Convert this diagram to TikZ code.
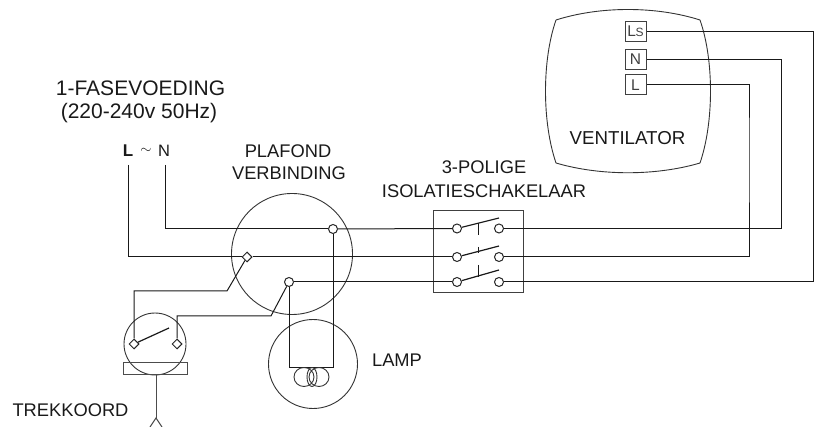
\documentclass[tikz,border=0pt]{standalone}
\usepackage{fontspec}
\setmainfont{Liberation Sans}
\usepackage{tikz}
\usetikzlibrary{shapes.geometric}
\tikzset{
	wire/.style={line width=1pt,black!90},
	rim/.style={line width=0.9pt,black!80},
	label/.style={inner sep=0pt,font=\fontsize{18.3}{20}\selectfont,black!90},
	term/.style={circle,draw,line width=1pt,black!85,fill=white,inner sep=0pt,minimum size=9pt},
	dterm/.style={diamond,draw,line width=1pt,black!85,fill=white,inner sep=0pt,minimum size=10pt},
	port/.style={rectangle,draw,line width=1pt,black!75,inner sep=0pt,minimum width=21pt,minimum height=20pt,font=\fontsize{15.5}{18}\selectfont},
}
\begin{document}
\begin{tikzpicture}[x=1pt,y=-1pt]
	\useasboundingbox (0,0) rectangle (819,427);
	\draw[rim] (556,20) .. controls (600,6) and (656,6) .. (700,20) .. controls (714,60) and (714,122) .. (700,163) .. controls (656,176) and (600,176) .. (556,163) .. controls (542,122) and (542,60) .. (556,20);
	\node[port] (ls) at (635.5,31.5) {L\kern-0.5pt{\fontsize{12}{14}\selectfont S}};
	\node[port] (n) at (635.5,59.5) {N};
	\node[port] (l) at (635.5,85) {L};
	\node[label,font=\fontsize{18.7}{20}\selectfont] (ventilator) at (627.5,138) {VENTILATOR};

	\node[label,font=\fontsize{21}{24}\selectfont] (fase) at (140.5,88) {1-FASEVOEDING};
	\node[label,font=\fontsize{21}{24}\selectfont] (range) at (139,113) {(220-240v 50Hz)};
	\node[label,font=\bfseries\fontsize{17}{18}\selectfont] (sourceL) at (128,150.5) {L};
	\node[label,font=\fontsize{15}{18}\selectfont] (tilde) at (146,151) {$\sim$};
	\node[label,font=\fontsize{16.5}{18}\selectfont] (sourceN) at (164,150.5) {N};
	\node[label] (plafond) at (288,151) {PLAFOND};
	\node[label] (verbinding) at (289,173.5) {VERBINDING};
	\node[label] (polig) at (484,167.5) {3-POLIGE};
	\node[label] (isolatie) at (484,191) {ISOLATIESCHAKELAAR};
	\node[label] (lamp) at (397,360.5) {LAMP};
	\node[label] (trekkoord) at (70.5,410) {TREKKOORD};

	\draw[rim] (292,254) circle (60.5);
	\draw[rim] (313,364) circle (44.5);
	\draw[rim] (155,344) circle (31);
	\draw[wire,black!75] (433,211) rectangle (523,293);
	\draw[wire,black!70] (123,363) rectangle (187,375);

	\coordinate (feedL) at (128,165);
	\coordinate (feedN) at (165,165);
	\coordinate (riserLs) at (813,150);
	\coordinate (riserN) at (781,150);
	\coordinate (riserL) at (749,150);
	\coordinate (coilN) at (333,367.5);
	\coordinate (coilL) at (289,367.5);
	\coordinate (kinkL) at (227,291);
	\coordinate (kinkS) at (271,316);
	\coordinate (dropA) at (156,375);
	\coordinate (dropB) at (156,418);
	\coordinate (forkA) at (150,427);
	\coordinate (forkB) at (162,427);

	\node[term] (joinN) at (333,229) {};
	\node[dterm] (joinL) at (247,257) {};
	\node[term] (joinS) at (289,282) {};
	\node[dterm] (pullA) at (134,344) {};
	\node[dterm] (pullB) at (177,344) {};
	\node[term] (swA) at (457,228.5) {};
	\node[term] (swB) at (457,257) {};
	\node[term] (swC) at (457,282) {};
	\node[term] (swD) at (499,228.5) {};
	\node[term] (swE) at (499,257) {};
	\node[term] (swF) at (499,282) {};

	\draw[wire] (feedN) |- (joinN);
	\draw[wire] (joinN) -- (swA);
	\draw[wire] (feedL) |- (joinL);
	\draw[wire] (joinL) -- (swB);
	\draw[wire] (joinS) -- (swC);
	\draw[wire] (swD) -| (riserN) -- (riserN |- n) -- (n);
	\draw[wire] (swE) -| (riserL) -- (riserL |- l) -- (l);
	\draw[wire] (swF) -| (riserLs) -- (riserLs |- ls) -- (ls);
	\draw[wire] (joinN) -- (coilN) -- (coilL) -- (joinS);
	\draw[wire] (joinL) -- (kinkL) -| (pullA);
	\draw[wire] (joinS) -- (kinkS) -| (pullB);
	\draw[wire,black!70] (dropA) -- (dropB);
	\draw[wire,black!70] (forkA) -- (dropB) -- (forkB);

	\draw[wire,line width=1.2pt] (swA) -- (499,218);
	\draw[wire,line width=1.2pt] (swB) -- (499,246);
	\draw[wire,line width=1.2pt] (swC) -- (499,270);
	\draw[wire] (478,223) -- (478,235);
	\draw[wire] (478,247) -- (478,253);
	\draw[wire] (478,265) -- (478,277);
	\draw[wire,line width=1.2pt] (pullA) -- (169,328);

	\draw[rim] (304,377) ellipse (10 and 9.5);
	\draw[rim] (312,377) ellipse (5 and 9.5);
	\draw[rim] (319,377) ellipse (10 and 9.5);
\end{tikzpicture}
\end{document}
